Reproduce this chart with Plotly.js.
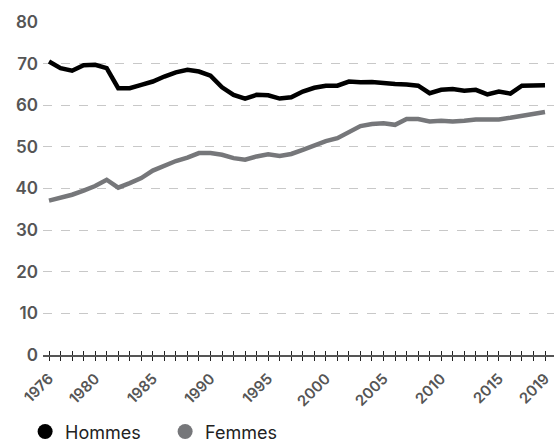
<!DOCTYPE html>
<html>
<head>
<meta charset="utf-8">
<script src="https://cdn.plot.ly/plotly-3.0.1.min.js"></script>
<style>
  html, body { margin: 0; padding: 0; background: #fff; }
  #chart { width: 554px; height: 441px; }
</style>
</head>
<body>
<div id="chart"></div>
<script>
const annees = [];
for (let a = 1976; a <= 2019; a++) annees.push(a);

// taux (%)
const hommes = [70.5, 68.9, 68.3, 69.6, 69.7, 68.9, 64.1, 64.1, 64.9, 65.7,
                66.9, 67.9, 68.5, 68.1, 67.1, 64.3, 62.5, 61.6, 62.5, 62.4,
                61.6, 61.9, 63.3, 64.2, 64.7, 64.7, 65.7, 65.5, 65.6, 65.3,
                65.1, 65.0, 64.7, 62.9, 63.7, 63.9, 63.5, 63.7, 62.6, 63.3,
                62.8, 64.7, 64.7, 64.8];
const femmes = [37.1, 37.7, 38.5, 39.5, 40.6, 42.1, 40.2, 41.3, 42.5, 44.3,
                45.4, 46.6, 47.4, 48.5, 48.5, 48.1, 47.3, 46.9, 47.7, 48.2,
                47.8, 48.3, 49.3, 50.3, 51.4, 52.1, 53.7, 55.0, 55.5, 55.7,
                55.3, 56.7, 56.7, 56.1, 56.3, 56.1, 56.3, 56.6, 56.6, 56.6,
                57.0, 57.4, 57.8, 58.4];

const anneesLabels = [1976, 1980, 1985, 1990, 1995, 2000, 2005, 2010, 2015, 2019];
const yTicks = [0, 10, 20, 30, 40, 50, 60, 70, 80];

const noir = '#000000';
const gris = '#76777a';
const police = 'Inter, sans-serif';

const texteTicks = annees.map(a => anneesLabels.includes(a) ? String(a) : '');
const xRange = [1975.48, 2019.78];

const data = [
    { x: annees, y: hommes, type: 'scatter', mode: 'lines', name: 'Hommes',
      line: { color: noir, width: 4.5 }, showlegend: false, hoverinfo: 'skip' },
    { x: annees, y: femmes, type: 'scatter', mode: 'lines', name: 'Femmes',
      line: { color: gris, width: 4.5 }, showlegend: false, hoverinfo: 'skip' },
    // entrées de légende
    { x: [null], y: [null], type: 'scatter', mode: 'markers', name: 'Hommes',
      marker: { color: noir, size: 15 } },
    { x: [null], y: [null], type: 'scatter', mode: 'markers', name: 'Femmes',
      marker: { color: gris, size: 15 } },
    // petites graduations vers le haut
    { x: annees, y: hommes, xaxis: 'x2', type: 'scatter', mode: 'lines',
      line: { width: 0 }, showlegend: false, hoverinfo: 'skip', opacity: 0 }
];

const layout = {
    width: 554,
    height: 441,
    margin: { l: 43, r: 0, t: 22, b: 86, autoexpand: false },
    paper_bgcolor: '#fff',
    plot_bgcolor: '#fff',
    font: { family: police, color: '#555' },
    xaxis: {
        range: xRange,
        automargin: false,
        tickvals: annees,
        ticktext: texteTicks,
        tickangle: -45,
        ticks: 'outside',
        ticklen: 4,
        tickwidth: 1,
        tickcolor: '#222',
        showgrid: false,
        zeroline: false,
        showline: true,
        linecolor: '#555',
        linewidth: 2,
        ticklabelstandoff: 3,
        tickfont: { family: police, size: 15, color: '#555', weight: 600 }
    },
    xaxis2: {
        overlaying: 'x',
        anchor: 'y',
        side: 'bottom',
        range: xRange,
        automargin: false,
        tickvals: annees,
        showticklabels: false,
        ticks: 'inside',
        ticklen: 4,
        tickwidth: 1,
        tickcolor: '#222',
        showgrid: false,
        zeroline: false,
        showline: false
    },
    yaxis: {
        range: [0, 80],
        automargin: false,
        tickvals: yTicks,
        showgrid: true,
        gridcolor: '#c8c8c8',
        griddash: 'dash',
        gridwidth: 1,
        zeroline: false,
        showline: false,
        ticks: '',
        ticklabelstandoff: 4,
        tickfont: { family: police, size: 17, color: '#555', weight: 600 }
    },
    legend: {
        orientation: 'h',
        x: -0.035,
        xanchor: 'left',
        y: -0.175,
        yanchor: 'top',
        entrywidth: 95,
        font: { family: police, size: 18, color: '#222' }
    },
    showlegend: true
};

Plotly.newPlot('chart', data, layout, { displayModeBar: false, staticPlot: true });
</script>
</body>
</html>
